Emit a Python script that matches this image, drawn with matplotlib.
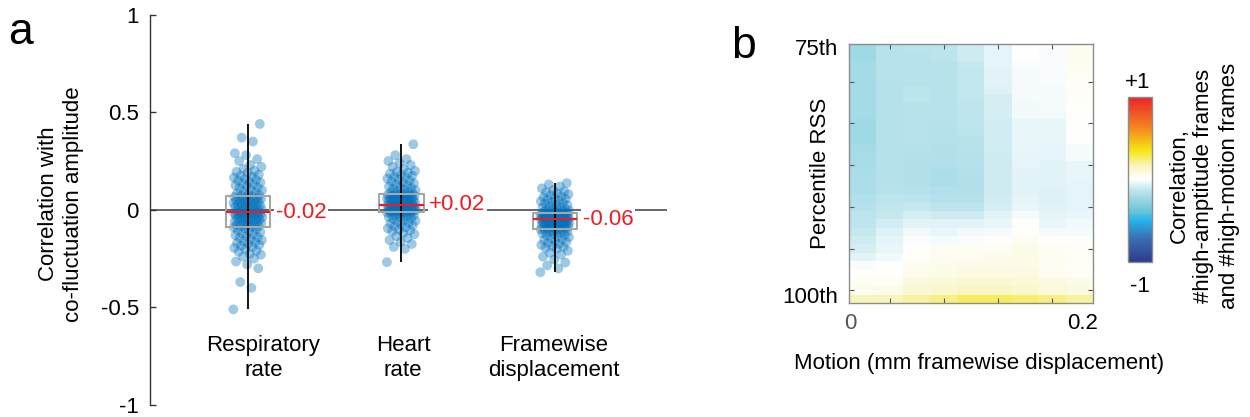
import numpy as np
import matplotlib
matplotlib.use("Agg")
import matplotlib.pyplot as plt
from matplotlib.colors import LinearSegmentedColormap

plt.rcParams['font.family'] = ['Liberation Sans', 'DejaVu Sans']

# ---------------- data ----------------
group_labels = ["Respiratory\nrate", "Heart\nrate", "Framewise\ndisplacement"]
median_labels = ["-0.02", "+0.02", "-0.06"]

resp_r = [-0.51, -0.40, -0.37, -0.30, -0.28, -0.265, -0.25, -0.24, -0.23, -0.225, -0.215, -0.21,
          -0.20, -0.195, -0.19, -0.185, -0.18, -0.175, -0.17, -0.165, -0.16, -0.155, -0.15, -0.145,
          -0.14, -0.135, -0.13, -0.125, -0.12, -0.115, -0.11, -0.105, -0.10, -0.095, -0.09,
          -0.088, -0.085, -0.083, -0.08, -0.078, -0.075, -0.073, -0.07, -0.068, -0.065, -0.063, -0.06,
          -0.058, -0.055, -0.053, -0.05, -0.048, -0.045, -0.043, -0.04, -0.038, -0.036, -0.034, -0.032,
          -0.03, -0.028, -0.026, -0.024, -0.022, -0.02, -0.019, -0.018, -0.017, -0.016, -0.015,
          -0.012, -0.01, -0.007, -0.005, -0.002, 0.0, 0.003, 0.005, 0.008, 0.01, 0.013, 0.015, 0.018,
          0.02, 0.023, 0.025, 0.028, 0.03, 0.033, 0.035, 0.038, 0.04, 0.043, 0.045, 0.048, 0.05,
          0.053, 0.055, 0.058, 0.06, 0.062, 0.065, 0.067, 0.07, 0.072,
          0.075, 0.08, 0.085, 0.09, 0.095, 0.10, 0.105, 0.11, 0.115, 0.12, 0.125, 0.13, 0.135,
          0.14, 0.145, 0.15, 0.155, 0.16, 0.165, 0.17, 0.175, 0.18, 0.19, 0.195, 0.20, 0.21, 0.22,
          0.23, 0.25, 0.26, 0.28, 0.29, 0.35, 0.37, 0.44]

heart_r = [-0.268, -0.20, -0.19, -0.175, -0.165, -0.155, -0.145, -0.135, -0.125, -0.12, -0.11,
           -0.105, -0.10, -0.095, -0.09, -0.085, -0.08, -0.075, -0.07, -0.065, -0.06, -0.056, -0.052,
           -0.048, -0.044, -0.04, -0.037, -0.034, -0.031, -0.028, -0.025, -0.022, -0.019, -0.016, -0.014,
           -0.012, -0.011, -0.01, -0.009, -0.008, -0.007, -0.006, -0.005, -0.004, -0.003, -0.002,
           -0.001, 0.0, 0.001, 0.002, 0.003, 0.004, 0.005, 0.006, 0.007, 0.008, 0.009, 0.01, 0.011,
           0.012, 0.013, 0.014, 0.015, 0.016, 0.017, 0.018, 0.019, 0.02, 0.022, 0.024,
           0.026, 0.028, 0.03, 0.031, 0.033, 0.035, 0.036, 0.038, 0.04, 0.041, 0.043, 0.045, 0.046,
           0.048, 0.05, 0.051, 0.053, 0.055, 0.056, 0.058, 0.06, 0.061, 0.063, 0.065, 0.066, 0.068,
           0.07, 0.071, 0.072, 0.073, 0.074, 0.076, 0.077, 0.078, 0.08,
           0.083, 0.086, 0.09, 0.093, 0.096, 0.10, 0.104, 0.108, 0.112, 0.116, 0.12, 0.125, 0.13,
           0.135, 0.14, 0.145, 0.15, 0.155, 0.16, 0.165, 0.17, 0.175, 0.18, 0.185, 0.19, 0.195, 0.20,
           0.21, 0.22, 0.23, 0.24, 0.25, 0.26, 0.28, 0.336]

fd_r = [-0.32, -0.30, -0.285, -0.27, -0.255, -0.24, -0.23, -0.22, -0.21, -0.20, -0.195, -0.19,
        -0.185, -0.18, -0.175, -0.17, -0.165, -0.16, -0.155, -0.15, -0.145, -0.14, -0.136, -0.132,
        -0.128, -0.124, -0.12, -0.117, -0.114, -0.111, -0.108, -0.106, -0.104, -0.102, -0.10,
        -0.098, -0.096, -0.095, -0.093, -0.092, -0.09, -0.088, -0.087, -0.085, -0.084, -0.082, -0.08,
        -0.079, -0.077, -0.076, -0.074, -0.072, -0.071, -0.069, -0.068, -0.066, -0.065, -0.063,
        -0.062, -0.06, -0.059, -0.058, -0.057, -0.056, -0.055, -0.054, -0.053, -0.052, -0.051, -0.05,
        -0.049, -0.048, -0.047, -0.046, -0.045, -0.044, -0.043, -0.042, -0.041, -0.04, -0.039,
        -0.038, -0.037, -0.036, -0.035, -0.034, -0.033, -0.032, -0.031, -0.03, -0.029, -0.028,
        -0.027, -0.026, -0.025, -0.024, -0.023, -0.022, -0.021, -0.02, -0.019, -0.018, -0.018,
        -0.017, -0.017,
        -0.015, -0.012, -0.01, -0.008, -0.005, -0.003, 0.0, 0.003, 0.006, 0.01, 0.013, 0.016, 0.02,
        0.024, 0.028, 0.032, 0.036, 0.04, 0.044, 0.048, 0.052, 0.056, 0.06, 0.065, 0.07, 0.075,
        0.08, 0.085, 0.09, 0.095, 0.10, 0.11, 0.12, 0.13, 0.137]

# heatmap: rows = percentile RSS (75th top -> 100th bottom), cols = motion 0 -> 0.2 mm
heat = [
    [-0.22, -0.15, -0.14, -0.14, -0.10, -0.05, 0.00, -0.01, 0.04],
    [-0.22, -0.15, -0.15, -0.14, -0.10, -0.05, 0.00, -0.01, 0.04],
    [-0.21, -0.15, -0.15, -0.15, -0.11, -0.05, -0.01, -0.01, 0.04],
    [-0.21, -0.15, -0.15, -0.15, -0.12, -0.06, -0.02, -0.01, 0.03],
    [-0.21, -0.16, -0.15, -0.15, -0.12, -0.06, -0.02, -0.01, 0.02],
    [-0.21, -0.16, -0.14, -0.15, -0.12, -0.07, -0.02, -0.02, 0.02],
    [-0.21, -0.16, -0.14, -0.15, -0.12, -0.08, -0.02, -0.02, 0.02],
    [-0.21, -0.16, -0.15, -0.15, -0.13, -0.08, -0.03, -0.02, 0.01],
    [-0.21, -0.16, -0.15, -0.15, -0.13, -0.08, -0.03, -0.03, 0.01],
    [-0.22, -0.16, -0.15, -0.16, -0.13, -0.09, -0.04, -0.04, 0.00],
    [-0.22, -0.16, -0.15, -0.16, -0.14, -0.09, -0.04, -0.04, 0.00],
    [-0.22, -0.16, -0.15, -0.16, -0.15, -0.09, -0.04, -0.04, 0.00],
    [-0.21, -0.16, -0.16, -0.17, -0.15, -0.09, -0.04, -0.05, -0.02],
    [-0.20, -0.16, -0.17, -0.17, -0.16, -0.10, -0.05, -0.05, -0.02],
    [-0.20, -0.16, -0.17, -0.17, -0.16, -0.10, -0.05, -0.06, -0.04],
    [-0.19, -0.16, -0.17, -0.18, -0.17, -0.10, -0.06, -0.06, -0.04],
    [-0.18, -0.16, -0.17, -0.18, -0.17, -0.10, -0.06, -0.06, -0.05],
    [-0.18, -0.15, -0.16, -0.17, -0.17, -0.10, -0.06, -0.07, -0.05],
    [-0.17, -0.14, -0.14, -0.16, -0.16, -0.09, -0.05, -0.07, -0.05],
    [-0.16, -0.12, -0.11, -0.14, -0.14, -0.08, -0.04, -0.06, -0.05],
    [-0.14, -0.11, -0.08, -0.10, -0.10, -0.06, -0.02, -0.05, -0.04],
    [-0.13, -0.09, -0.06, -0.06, -0.06, -0.04, 0.00, -0.04, -0.03],
    [-0.11, -0.07, -0.03, -0.04, -0.03, -0.02, 0.01, -0.02, -0.02],
    [-0.10, -0.05, -0.01, -0.02, -0.01, 0.00, 0.04, 0.00, 0.00],
    [-0.08, -0.04, 0.00, 0.03, 0.03, 0.03, 0.06, 0.03, 0.02],
    [-0.06, -0.03, 0.01, 0.04, 0.04, 0.05, 0.07, 0.04, 0.03],
    [-0.01, 0.00, 0.04, 0.05, 0.06, 0.06, 0.07, 0.03, 0.02],
    [0.01, 0.01, 0.05, 0.07, 0.08, 0.08, 0.08, 0.04, 0.03],
    [0.03, 0.03, 0.09, 0.11, 0.12, 0.12, 0.11, 0.08, 0.06],
    [0.05, 0.06, 0.12, 0.13, 0.15, 0.15, 0.14, 0.10, 0.08],
    [0.17, 0.17, 0.20, 0.23, 0.27, 0.27, 0.25, 0.23, 0.20],
]
heat_row_labels = ["75th", "100th"]
heat_col_labels = ["0", "0.2"]
cbar_labels = ["+1", "-1"]

# ---------------- figure ----------------
fig = plt.figure(figsize=(12.5, 4.17), dpi=100)
FS = 16
RED = '#ed1c24'
BLUE = '#0072bd'

# ---- panel a ----
axA = fig.add_axes([0.12, 0.0288, 0.4136, 0.936])
axA.set_xlim(0.362, 3.73)
axA.set_ylim(-1, 1)
for s in ['top', 'right', 'bottom']:
    axA.spines[s].set_visible(False)
axA.spines['left'].set_color('#333333')
axA.spines['left'].set_linewidth(1.0)
axA.set_xticks([])
axA.set_yticks([-1, -0.5, 0, 0.5, 1])
axA.set_yticklabels(['-1', '-0.5', '0', '0.5', '1'], fontsize=FS)
axA.tick_params(axis='y', direction='in', length=4, width=1, color='#333333', pad=8)

axA.axhline(0, color='#4d4d4d', lw=1.2, zorder=1)

series = [resp_r, heart_r, fd_r]
positions = [1, 2, 3]
golden = 0.6180339887
box_w = 0.29
for pos, vals, mlab in zip(positions, series, median_labels):
    v = np.asarray(vals)
    idx = np.arange(len(v))
    jitter = ((idx * golden) % 1.0 - 0.5) * 0.19
    axA.scatter(pos + jitter, v, s=50, color=BLUE, alpha=0.38, edgecolors='none', zorder=2)
    axA.vlines(pos, v.min(), v.max(), color='black', lw=1.3, zorder=3)
    axA.boxplot([v], positions=[pos], widths=box_w, whis=(0, 100), showcaps=False,
                showfliers=False, manage_ticks=False,
                boxprops=dict(color='#a6a6a6', lw=1.5),
                whiskerprops=dict(lw=0),
                medianprops=dict(color=RED, lw=1.6), zorder=4)
    axA.text(pos + box_w / 2 + 0.035, np.median(v), mlab, color=RED, fontsize=FS,
             ha='left', va='center', zorder=5,
             bbox=dict(facecolor='white', edgecolor='none', pad=1))

label_offsets = [0.1, 0.01, -0.01]
for pos, off, lab in zip(positions, label_offsets, group_labels):
    axA.text(pos + off, -0.76, lab, ha='center', va='center', fontsize=FS, linespacing=1.25)

fig.text(61 / 1250, 1 - 204 / 417, "Correlation with\nco-fluctuation amplitude", rotation=90,
         ha='center', va='center', fontsize=FS, linespacing=1.25)
fig.text(21 / 1250, 1 - 33 / 417, "a", fontsize=32, ha='center', va='center')
fig.text(743 / 1250, 1 - 46 / 417, "b", fontsize=32, ha='center', va='center')

# ---- panel b ----
cmap = LinearSegmentedColormap.from_list('corr', [
    (0.0, '#2f3b8c'),
    (0.14, '#3b6db4'),
    (0.25, '#25b4ea'),
    (0.31, '#6cc5d8'),
    (0.44, '#c2e7ef'),
    (0.5, '#ffffff'),
    (0.58, '#f9f6c4'),
    (0.675, '#f5e616'),
    (0.825, '#f4801f'),
    (1.0, '#e8262b'),
])

axB = fig.add_axes([0.6792, 0.2741, 0.1952, 0.6197])
im = axB.imshow(np.asarray(heat), cmap=cmap, vmin=-1, vmax=1, aspect='auto',
                interpolation='nearest')
axB.set_xticks([1, 3, 5, 7])
axB.set_yticks([4, 9, 14, 19, 24, 29])
axB.set_xticklabels([])
axB.set_yticklabels([])
axB.tick_params(direction='in', top=True, right=True, length=3.5, width=0.8, color='#555555')
for s in axB.spines.values():
    s.set_color('#8c8c8c')
    s.set_linewidth(1.0)

axB.text(-0.045, 0.978, heat_row_labels[0], transform=axB.transAxes, ha='right', va='center', fontsize=FS)
axB.text(-0.045, 0.022, heat_row_labels[1], transform=axB.transAxes, ha='right', va='center', fontsize=FS)
axB.text(0.004, -0.082, heat_col_labels[0], transform=axB.transAxes, ha='center', va='center',
         fontsize=FS, color='#555555')
axB.text(0.959, -0.082, heat_col_labels[1], transform=axB.transAxes, ha='center', va='center', fontsize=FS)

fig.text(979 / 1250, 1 - 363 / 417, "Motion (mm framewise displacement)", ha='center', va='center', fontsize=FS)
fig.text(820 / 1250, 1 - 173 / 417, "Percentile RSS", rotation=90, ha='center', va='center', fontsize=FS)

cax = fig.add_axes([0.9024, 0.3724, 0.0192, 0.3942])
cb = fig.colorbar(im, cax=cax)
cb.set_ticks([])
cb.outline.set_edgecolor('#8c8c8c')
cb.outline.set_linewidth(1.0)
fig.text(1138 / 1250, 1 - 83 / 417, cbar_labels[0], ha='center', va='center', fontsize=FS)
fig.text(1140 / 1250, 1 - 287 / 417, cbar_labels[1], ha='center', va='center', fontsize=FS)
fig.text(1204 / 1250, 1 - 186 / 417, "Correlation,\n#high-amptitude frames\nand #high-motion frames",
         rotation=90, ha='center', va='center', multialignment='center', fontsize=FS, linespacing=1.25)

fig.savefig("out.png", dpi=100)
